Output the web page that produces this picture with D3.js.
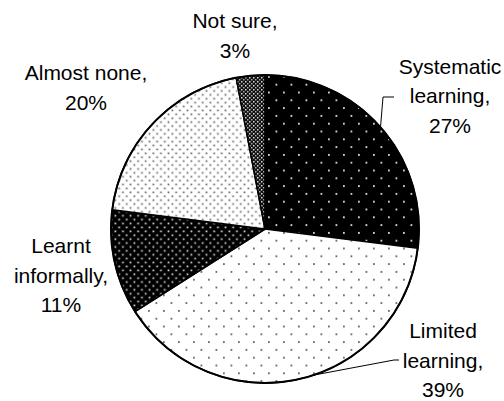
<!DOCTYPE html>
<html>
<head>
<meta charset="utf-8">
<script src="https://cdn.jsdelivr.net/npm/d3@7"></script>
<style>
  html, body { margin: 0; padding: 0; background: #fff; }
  text { font-family: "Liberation Sans", Arial, sans-serif; font-size: 21px; fill: #000; }
</style>
</head>
<body>
<svg class="pie" width="504" height="401"></svg>
<script>
// data
var categories = ['Systematic learning', 'Limited learning', 'Learnt informally', 'Almost none', 'Not sure'];
var values = [27, 39, 11, 20, 3];
var labelLines = [
    ['Systematic', 'learning,', '27%'],
    ['Limited', 'learning,', '39%'],
    ['Learnt', 'informally,', '11%'],
    ['Almost none,', '20%'],
    ['Not sure,', '3%']
];

var svg = d3.select('svg.pie');
var cx = 265, cy = 229, radius = 154;
var lineGap = 29.5;

// where each label block sits (center x, first baseline)
var labelAt = [[450, 73.5], [443, 338], [61, 253], [86, 80], [235, 28]];
// leader lines: rim angle nudge (rad), elbow and end points, null = none
var leaders = [[0, [383, 97], [394, 97]], [-0.1, [394, 360], [399, 360]], null, null, null];

var defs = svg.append('defs');

// sparse dots (staggered, 15px apart in a row, rows 7.8px apart)
function sparseDots(id, bg, dot) {
    var p = defs.append('pattern').attr('id', id)
        .attr('patternUnits', 'userSpaceOnUse')
        .attr('width', 15).attr('height', 15.6);
    p.append('rect').attr('width', 15).attr('height', 15.6).attr('fill', bg);
    [[3, 3], [10.5, 10.8]].forEach(function (c) {
        p.append('rect').attr('x', c[0]).attr('y', c[1]).attr('width', 1.8).attr('height', 1.8).attr('fill', dot);
    });
}
function denseDots(id, bg, dot) {
    var p = defs.append('pattern').attr('id', id)
        .attr('patternUnits', 'userSpaceOnUse')
        .attr('width', 7.6).attr('height', 7.8);
    p.append('rect').attr('width', 7.6).attr('height', 7.8).attr('fill', bg);
    [[1.5, 1.5], [5.3, 5.4]].forEach(function (c) {
        p.append('rect').attr('x', c[0]).attr('y', c[1]).attr('width', 1.7).attr('height', 1.7).attr('fill', dot);
    });
}
sparseDots('pSys', '#000', '#ddd');
sparseDots('pLim', '#fff', '#666');
denseDots('pInf', '#000', '#ddd');
denseDots('pNone', '#fff', '#666');

var hatch = defs.append('pattern').attr('id', 'pNot')
    .attr('patternUnits', 'userSpaceOnUse')
    .attr('width', 4).attr('height', 4);
hatch.append('rect').attr('width', 4).attr('height', 4).attr('fill', '#111');
hatch.append('rect').attr('x', 0).attr('y', 0).attr('width', 1.5).attr('height', 1.5).attr('fill', '#ddd');
hatch.append('rect').attr('x', 2).attr('y', 2).attr('width', 1.5).attr('height', 1.5).attr('fill', '#aaa');

var fills = ['url(#pSys)', 'url(#pLim)', 'url(#pInf)', 'url(#pNone)', 'url(#pNot)'];

var pie = d3.pie().sort(null).value(function (d) { return d; });
var arc = d3.arc().innerRadius(0).outerRadius(radius);
var arcs = pie(values);

var g = svg.append('g').attr('transform', 'translate(' + cx + ',' + cy + ')');

g.selectAll('path.slice')
    .data(arcs)
    .enter()
    .append('path')
    .attr('class', 'slice')
    .attr('d', arc)
    .attr('fill', function (d, i) { return fills[i]; })
    .attr('stroke', '#000')
    .attr('stroke-width', 1.5)
    .attr('stroke-linejoin', 'round');

g.append('circle')
    .attr('r', radius)
    .attr('fill', 'none')
    .attr('stroke', '#000')
    .attr('stroke-width', 2);

// leader lines start on the rim near the slice mid angle
arcs.forEach(function (d, i) {
    var ld = leaders[i];
    if (!ld) return;
    var a = (d.startAngle + d.endAngle) / 2 + ld[0];
    var sx = cx + Math.sin(a) * radius, sy = cy - Math.cos(a) * radius;
    svg.append('polyline')
        .attr('points', [[sx, sy], ld[1], ld[2]].map(function (p) { return p.join(','); }).join(' '))
        .attr('fill', 'none')
        .attr('stroke', '#000')
        .attr('stroke-width', 1);
});

var labels = svg.selectAll('text.lbl')
    .data(labelLines)
    .enter()
    .append('text')
    .attr('class', 'lbl')
    .attr('text-anchor', 'middle')
    .attr('x', function (d, i) { return labelAt[i][0]; })
    .attr('y', function (d, i) { return labelAt[i][1]; });

labels.selectAll('tspan')
    .data(function (d, i) { return d.map(function (t) { return { t: t, x: labelAt[i][0] }; }); })
    .enter()
    .append('tspan')
    .attr('x', function (d) { return d.x; })
    .attr('dy', function (d, j) { return j === 0 ? 0 : lineGap; })
    .text(function (d) { return d.t; });
</script>
</body>
</html>
